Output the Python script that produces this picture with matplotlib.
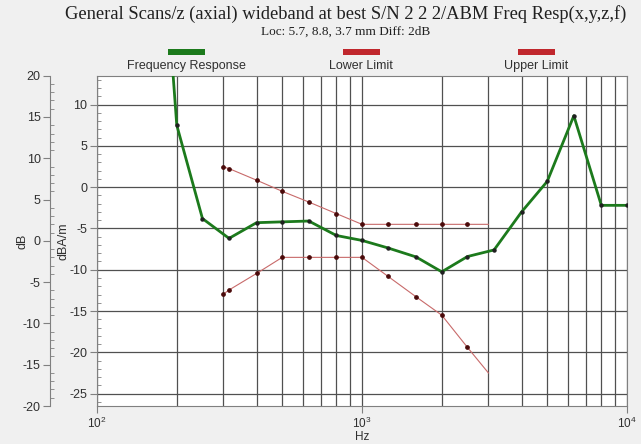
import matplotlib
matplotlib.use("Agg")
import matplotlib.pyplot as plt
from matplotlib.ticker import MultipleLocator, NullFormatter, LogLocator
from matplotlib.patches import Rectangle

# ---- data ----
freq_resp_hz = [160, 200, 250, 315, 400, 500, 630, 800, 1000, 1250, 1600,
                2000, 2500, 3150, 4000, 5000, 6300, 8000, 10000]
freq_resp_dbam = [50, 7.5, -3.8, -6.2, -4.3, -4.2, -4.1, -5.85, -6.45, -7.35,
                  -8.45, -10.25, -8.4, -7.6, -3.0, 0.7, 8.65, -2.2, -2.2]

limit_hz = [300, 315, 400, 500, 630, 800, 1000, 1250, 1600, 2000, 2500, 3000]
upper_db = [8.95, 8.75, 7.35, 6.0, 4.7, 3.3, 2.0, 2.0, 2.0, 2.0, 2.0, 2.0]
lower_db = [-6.45, -5.95, -3.95, -2.0, -2.0, -2.0, -2.0, -4.27, -6.78, -9.0, -12.9, -16.0]
limit_marked = [True] * 11 + [False]

title = "General Scans/z (axial) wideband at best S/N 2 2 2/ABM Freq Resp(x,y,z,f)"
subtitle = "Loc: 5.7, 8.8, 3.7 mm Diff: 2dB"
legend_labels = ["Frequency Response", "Lower Limit", "Upper Limit"]

# ---- style ----
W, H = 641, 444
BG = "#f0f0f0"
GREEN = "#1c7a1c"
LEG_RED = "#c0272d"
LIM_RED = "#c86a6a"
GRID = "#505050"
TXT = "#303030"

plt.rcParams["font.family"] = ["Liberation Sans", "DejaVu Sans"]
plt.rcParams["axes.unicode_minus"] = False

fig = plt.figure(figsize=(W / 100, H / 100), dpi=100, facecolor=BG)

left, right, top, bottom = 97, 627, 75.7, 406
ax = fig.add_axes([left / W, 1 - bottom / H, (right - left) / W, (bottom - top) / H])
ax.set_facecolor("white")
ax.set_xscale("log")
ax.set_xlim(100, 10000)
ax.set_ylim(-26.5, 13.5)

ax.xaxis.set_major_locator(LogLocator(base=10))
ax.xaxis.set_minor_locator(LogLocator(base=10, subs=range(2, 10)))
ax.xaxis.set_minor_formatter(NullFormatter())
ax.yaxis.set_major_locator(MultipleLocator(5))
ax.yaxis.set_minor_locator(MultipleLocator(1))

ax.grid(True, which="both", axis="x", color=GRID, lw=0.9)
ax.grid(True, which="major", axis="y", color=GRID, lw=0.9)
ax.set_axisbelow(True)

ax.tick_params(axis="x", which="major", direction="out", length=5, color="#808080",
               labelsize=8.5, labelcolor=TXT, pad=2)
ax.tick_params(axis="x", which="minor", length=0)
ax.tick_params(axis="y", which="major", direction="out", length=5, color="#808080",
               labelsize=9, labelcolor=TXT, pad=2)
ax.tick_params(axis="y", which="minor", direction="in", length=3, color="#808080")
for s in ax.spines.values():
    s.set_color("#808080")
ax.set_xlabel("Hz", fontsize=8.5, color=TXT, labelpad=0)
ax.set_ylabel("dBA/m", fontsize=9, color=TXT, labelpad=-0.5)

ax.plot(freq_resp_hz, freq_resp_dbam, color=GREEN, lw=2.0, marker="o",
        markersize=2.2, markerfacecolor="#202020", markeredgecolor="#202020", zorder=3)

# second (dB) axis on the far left
ax2 = ax.twinx()
ax2.set_ylim(-20, 20)
ax2.yaxis.set_ticks_position("left")
ax2.yaxis.set_label_position("left")
ax2.spines["left"].set_position(("outward", 33.5))
for k in ("right", "top", "bottom"):
    ax2.spines[k].set_visible(False)
ax2.spines["left"].set_color("#808080")
ax2.yaxis.set_major_locator(MultipleLocator(5))
ax2.yaxis.set_minor_locator(MultipleLocator(1))
ax2.tick_params(axis="y", which="major", direction="out", length=5, color="#808080",
                labelsize=9, labelcolor=TXT, pad=2)
ax2.tick_params(axis="y", which="minor", direction="in", length=3, color="#808080")
ax2.set_ylabel("dB", fontsize=9, color=TXT, labelpad=-4)

for vals in (upper_db, lower_db):
    ax2.plot(limit_hz, vals, color=LIM_RED, lw=0.8, zorder=2)
    mx = [f for f, m in zip(limit_hz, limit_marked) if m]
    my = [v for v, m in zip(vals, limit_marked) if m]
    ax2.plot(mx, my, linestyle="none", marker="o", markersize=2.4,
             markerfacecolor="#4a0a0a", markeredgecolor="#4a0a0a", zorder=3)

# titles
fig.text(346 / W, 1 - 14 / H, title, ha="center", va="center",
         family=["Liberation Serif", "DejaVu Serif"], fontsize=13.3, color="#202020")
fig.text(346 / W, 1 - 32 / H, subtitle, ha="center", va="center",
         family=["Liberation Serif", "DejaVu Serif"], fontsize=9.5, color="#202020")

# legend (bars above labels)
leg_x = [186, 361, 536]
leg_c = [GREEN, LEG_RED, LEG_RED]
for x, c, lab in zip(leg_x, leg_c, legend_labels):
    fig.add_artist(Rectangle(((x - 18.5) / W, 1 - 55 / H), 37 / W, 5.7 / H,
                             transform=fig.transFigure, color=c, lw=0))
    fig.text(x / W, 1 - 66 / H, lab, ha="center", va="center", fontsize=9, color=TXT)

fig.savefig("out.png", dpi=100, facecolor=BG)
